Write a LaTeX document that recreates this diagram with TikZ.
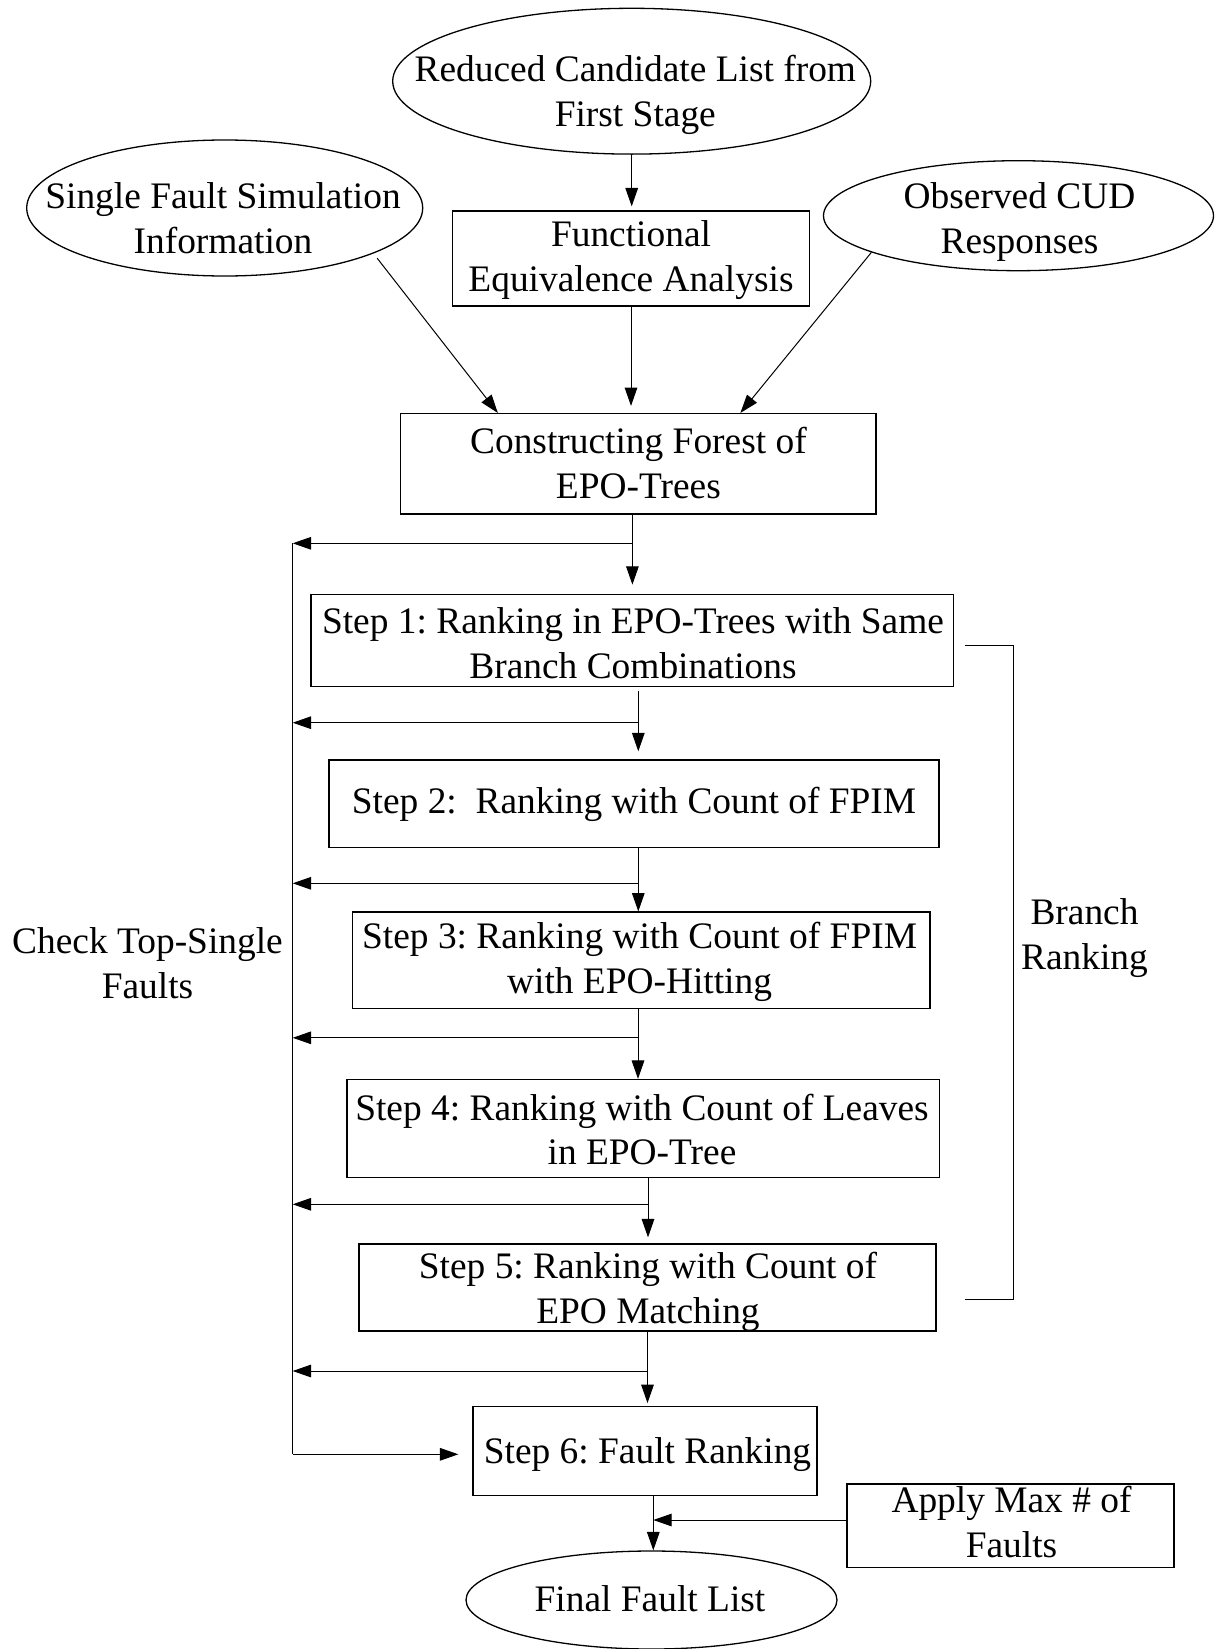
\documentclass[tikz,border=0pt]{standalone}
\usepackage{fontspec}
\setmainfont{Liberation Serif}
\usetikzlibrary{shapes.geometric,arrows.meta,calc}
\begin{document}
\begin{tikzpicture}[x=0.5pt,y=-0.5pt,
  box/.style={draw, line width=0.65pt, rectangle, inner sep=0pt},
  oval/.style={draw, line width=0.65pt, ellipse, inner sep=0pt},
  txt/.style={inner sep=0pt, align=center, font=\fontsize{18.7pt}{22.4pt}\selectfont\frenchspacing},
  arr/.style={line width=0.5pt, -{Triangle[length=9.2pt,width=6.3pt]}},
  wire/.style={line width=0.5pt}]
\fill[white] (0,0) rectangle (1215,1649);
\useasboundingbox (0,0) rectangle (1215,1649);

% input ellipses
\node[oval, minimum width=239pt, minimum height=72.9pt] (red) at (631.7,81.2) {};
\node[oval, minimum width=198pt, minimum height=68pt] (sfs) at (224.7,208) {};
\node[oval, minimum width=195pt, minimum height=55pt] (obs) at (1018.5,215.7) {};

% processing boxes
\node[box, minimum width=178.3pt, minimum height=47.5pt] (fea) at (631,258.5) {};
\node[box, minimum width=237.6pt, minimum height=50.2pt] (cfe) at (638.4,463.8) {};
\node[box, minimum width=321.35pt, minimum height=46.2pt] (s1) at (632.4,640.5) {};
\node[box, minimum width=305pt, minimum height=43.85pt] (s2) at (634,803.8) {};
\node[box, minimum width=288.65pt, minimum height=48.35pt] (s3) at (641.4,960.4) {};
\node[box, minimum width=296.25pt, minimum height=49.1pt] (s4) at (643.3,1128.6) {};
\node[box, minimum width=288.5pt, minimum height=43.5pt] (s5) at (647.5,1287.5) {};
\node[box, minimum width=172pt, minimum height=44.5pt] (s6) at (645,1451.2) {};
\node[box, minimum width=163.5pt, minimum height=41.85pt] (amf) at (1010.5,1525.8) {};
\node[oval, minimum width=185.5pt, minimum height=49pt] (fin) at (651.5,1600) {};

% texts
\node[txt] (tred) at (635.3,95) {\strut Reduced Candidate List from\\\strut First Stage};
\node[txt] (tsfs) at (223,221.7) {\strut Single Fault Simulation\\\strut Information};
\node[txt] (tobs) at (1019.5,221.7) {\strut Observed CUD\\\strut Responses};
\node[txt] (tfea) at (631,260) {\strut Functional\\\strut Equivalence Analysis};
\node[txt] (tcfe) at (638.4,467) {\strut Constructing Forest of\\\strut EPO-Trees};
\node[txt] (ts1) at (633,646.7) {\strut Step 1: Ranking in EPO-Trees with Same\\\strut Branch Combinations};
\node[txt] (ts2) at (634,804.3) {\strut Step 2:\ \ Ranking with Count of FPIM};
\node[txt] (ts3) at (639.6,962) {\strut Step 3: Ranking with Count of FPIM\\\strut with EPO-Hitting};
\node[txt] (ts4) at (642,1133.5) {\strut Step 4: Ranking with Count of Leaves\\\strut in EPO-Tree};
\node[txt] (ts5) at (648,1292) {\strut Step 5: Ranking with Count of\\\strut EPO Matching};
\node[txt] (ts6) at (647.5,1455) {\strut Step 6: Fault Ranking};
\node[txt] (tamf) at (1011.5,1526.4) {\strut Apply Max \# of\\\strut Faults};
\node[txt] (tfin) at (650,1602.7) {\strut Final Fault List};
\node[txt] (tchk) at (147.5,967.4) {\strut Check Top-Single\\\strut Faults};
\node[txt] (tbrk) at (1084.5,938.4) {\strut Branch\\\strut Ranking};

% junctions on the main chain and the left feedback rail
\coordinate (j0) at (632.7,543.3);
\coordinate (j1) at (638.3,722.7);
\coordinate (j2) at (638.3,883.3);
\coordinate (j3) at (638,1037.8);
\coordinate (j4) at (648,1204.3);
\coordinate (j5) at (647.5,1371);
\coordinate (j6) at (653.3,1520);
\coordinate (railtop) at (292.7,543.3);
\coordinate (railbot) at (292.7,1454.3);

% inputs into the forest construction
\draw[arr, shorten >=2pt] (red.south) -- (red.south |- fea.north);
\draw[arr, shorten >=3.5pt] (fea.south) -- (fea.south |- cfe.north);
\draw[arr, shorten <=3pt] (sfs.-17.3) -- ($(cfe.north west)!0.205!(cfe.north east)$);
\draw[arr] (obs.-166.6) -- ($(cfe.north west)!0.714!(cfe.north east)$);

% main ranking chain
\draw[arr, shorten >=4.5pt] (cfe.south -| s1.north) -- (s1.north);
\draw[arr, shorten <=2pt, shorten >=4pt] (s1.south -| j1) -- (s2.north -| j1);
\draw[arr] (s2.south -| j2) -- (s3.north -| j2);
\draw[arr] (s3.south -| j3) -- (s4.north -| j3);
\draw[arr, shorten >=3pt] (s4.south -| j4) -- (s5.north -| j4);
\draw[arr, shorten >=1.5pt] (s5.south -| j5) -- (s6.north -| j5);
\draw[arr] (s6.south -| j6) -- (fin.north -| j6);
\draw[arr] (amf.west |- j6) -- (j6);

% feedback branches to the left rail
\foreach \j in {j0,j1,j2,j3,j4,j5}
  \draw[arr] (\j) -- (\j -| railtop);
\draw[wire] (railtop) -- (railbot);
\draw[arr, shorten >=7pt] (railbot) -- (railbot -| s6.west);

% bracket for branch ranking
\coordinate (bt) at (965,645.7);
\coordinate (bx) at (1013.3,645.7);
\coordinate (bb) at (965,1299.6);
\draw[wire] (bt) -- (bx) |- (bb);
\end{tikzpicture}
\end{document}
